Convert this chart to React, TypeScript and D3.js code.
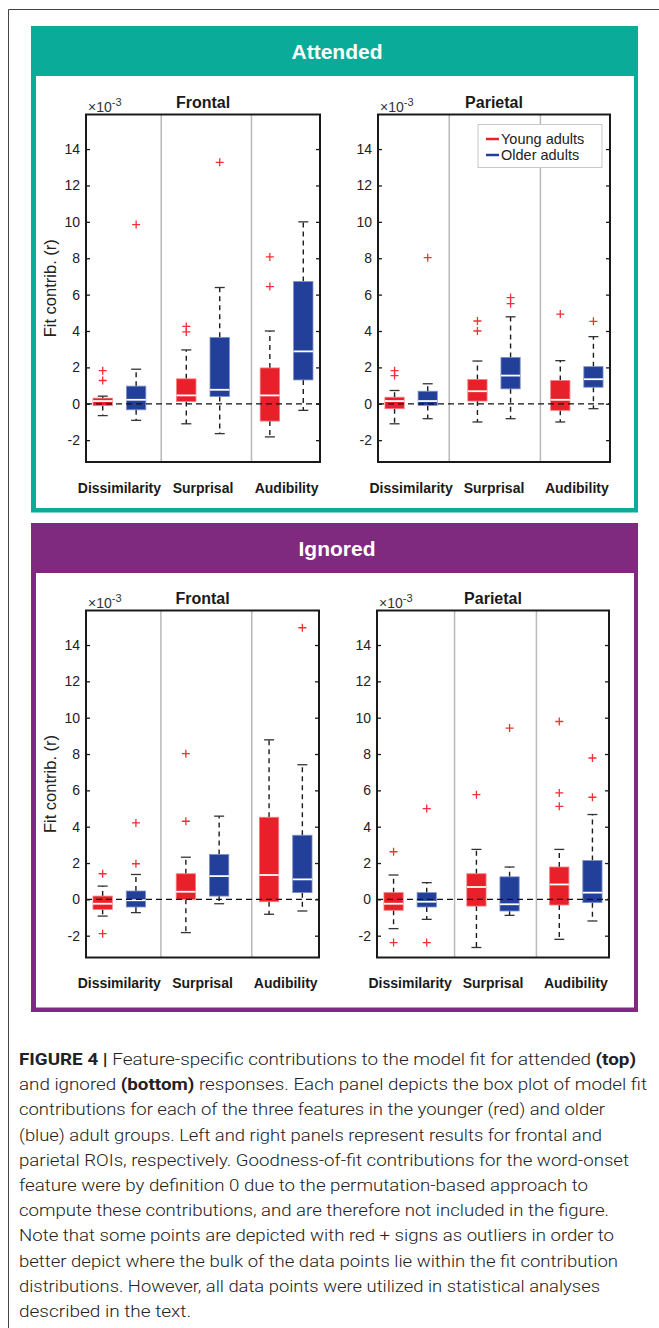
import React, { useEffect, useRef } from 'react';
import * as d3 from 'd3';

const W = 659;
const H = 1328;

const categories = ['Dissimilarity', 'Surprisal', 'Audibility'];
const groupNames = ['Young adults', 'Older adults'];
const yTicks = [-2, 0, 2, 4, 6, 8, 10, 12, 14];
const boxPositions = [1, 2, 3.5, 4.5, 6, 7];

// each box: [lower whisker, q1, median, q3, upper whisker] (x10^-3), young then older per feature
const attFrontalBoxes = [
  [-0.65, -0.1, 0.15, 0.31, 0.42],
  [-0.91, -0.33, 0.22, 0.97, 1.9],
  [-1.1, 0.13, 0.46, 1.37, 2.96],
  [-1.64, 0.4, 0.77, 3.65, 6.39],
  [-1.82, -0.95, 0.46, 1.97, 4.0],
  [-0.36, 1.31, 2.88, 6.72, 10.0],
];
const attFrontalOutliers = [[1.82, 1.28], [9.85], [4.25, 3.95], [13.27], [8.07, 6.44], []];

const attParietalBoxes = [
  [-1.1, -0.27, 0.15, 0.36, 0.73],
  [-0.82, -0.09, 0.15, 0.69, 1.1],
  [-1.0, 0.15, 0.69, 1.33, 2.35],
  [-0.82, 0.82, 1.55, 2.55, 4.78],
  [-1.0, -0.36, 0.22, 1.28, 2.37],
  [-0.27, 0.91, 1.35, 2.04, 3.69],
];
const attParietalOutliers = [[1.82, 1.55], [8.03], [4.55, 4.0], [5.84, 5.5], [4.93], [4.53]];

const ignFrontalBoxes = [
  [-0.92, -0.55, -0.24, 0.18, 0.73],
  [-0.73, -0.42, -0.05, 0.46, 1.37],
  [-1.83, 0.0, 0.42, 1.41, 2.32],
  [-0.24, 0.18, 1.28, 2.47, 4.58],
  [-0.82, -0.13, 1.34, 4.52, 8.78],
  [-0.64, 0.37, 1.1, 3.53, 7.41],
];
const ignFrontalOutliers = [[1.41, -1.89], [4.21, 1.96], [8.02, 4.3], [], [], [14.95]];

const ignParietalBoxes = [
  [-1.61, -0.6, -0.24, 0.37, 1.34],
  [-1.1, -0.42, -0.13, 0.37, 0.92],
  [-2.65, -0.37, 0.68, 1.41, 2.75],
  [-0.88, -0.64, -0.27, 1.24, 1.78],
  [-2.2, -0.31, 0.82, 1.78, 2.75],
  [-1.19, -0.18, 0.37, 2.14, 4.67],
];
const ignParietalOutliers = [[2.62, -2.38], [5.0, -2.38], [5.76], [9.43], [9.79, 5.86, 5.12], [7.78, 5.62]];

const captionLines = [
  [['FIGURE 4 | ', true], ['Feature-specific contributions to the model fit for attended ', false], ['(top)', true]],
  [['and ignored ', false], ['(bottom)', true], [' responses. Each panel depicts the box plot of model fit', false]],
  [['contributions for each of the three features in the younger (red) and older', false]],
  [['(blue) adult groups. Left and right panels represent results for frontal and', false]],
  [['parietal ROIs, respectively. Goodness-of-fit contributions for the word-onset', false]],
  [['feature were by definition 0 due to the permutation-based approach to', false]],
  [['compute these contributions, and are therefore not included in the figure.', false]],
  [['Note that some points are depicted with red + signs as outliers in order to', false]],
  [['better depict where the bulk of the data points lie within the fit contribution', false]],
  [['distributions. However, all data points were utilized in statistical analyses', false]],
  [['described in the text.', false]],
];
const captionWidths = [617, 628, 586, 583, 610, 569, 590, 595, 599, 581, 172];

const RED = '#e8202a';
const BLUE = '#22409a';
const FONT = '"Liberation Sans", Arial, sans-serif';

const sections = [
  { label: 'Attended', color: '#0aab99', top: 26, head: 76, bottom: 512.5 },
  { label: 'Ignored', color: '#7f2a7e', top: 523, head: 573, bottom: 1012 },
];

const panels = [
  { title: 'Frontal', boxes: attFrontalBoxes, outliers: attFrontalOutliers, x0: 86, x1: 320, y0: 114.5, y1: 462, dividers: [2.75, 5.45], ylabel: true, legend: false },
  { title: 'Parietal', boxes: attParietalBoxes, outliers: attParietalOutliers, x0: 378, x1: 610, y0: 114.5, y1: 462, dividers: [2.65, 5.4], ylabel: false, legend: true },
  { title: 'Frontal', boxes: ignFrontalBoxes, outliers: ignFrontalOutliers, x0: 86, x1: 319, y0: 610.5, y1: 957.5, dividers: [2.75, 5.48], ylabel: true, legend: false },
  { title: 'Parietal', boxes: ignParietalBoxes, outliers: ignParietalOutliers, x0: 377, x1: 609, y0: 610.5, y1: 957.5, dividers: [2.84, 5.31], ylabel: false, legend: false },
];

function drawPanel(svg, p) {
  const x = d3.scaleLinear().domain([0.5, 7.5]).range([p.x0, p.x1]);
  const y = d3.scaleLinear().domain([-3.2, 15.9]).range([p.y1, p.y0]);
  const g = svg.append('g');
  const bw = x(0.58) - x(0);
  const cw = x(0.3) - x(0);

  g.selectAll('line.div')
    .data(p.dividers)
    .enter()
    .append('line')
    .attr('x1', d => x(d)).attr('x2', d => x(d))
    .attr('y1', p.y0).attr('y2', p.y1)
    .attr('stroke', '#b9b9b9')
    .attr('stroke-width', 1.5);

  p.boxes.forEach((b, i) => {
    const cx = x(boxPositions[i]);
    const col = i % 2 === 0 ? RED : BLUE;
    // whiskers
    [[b[3], b[4]], [b[1], b[0]]].forEach(([a, e]) => {
      g.append('line')
        .attr('x1', cx).attr('x2', cx)
        .attr('y1', y(a)).attr('y2', y(e))
        .attr('stroke', '#1c1c1c')
        .attr('stroke-width', 1.4)
        .attr('stroke-dasharray', '5,4');
      g.append('line')
        .attr('x1', cx - cw / 2).attr('x2', cx + cw / 2)
        .attr('y1', y(e)).attr('y2', y(e))
        .attr('stroke', '#333')
        .attr('stroke-width', 1.3);
    });
    g.append('rect')
      .attr('x', cx - bw / 2)
      .attr('y', y(b[3]))
      .attr('width', bw)
      .attr('height', y(b[1]) - y(b[3]))
      .attr('fill', col)
      .attr('stroke', i % 2 === 0 ? '#f47b80' : '#7f8fc4')
      .attr('stroke-width', 0.8);
    g.append('line')
      .attr('x1', cx - bw / 2).attr('x2', cx + bw / 2)
      .attr('y1', y(b[2])).attr('y2', y(b[2]))
      .attr('stroke', '#fff')
      .attr('stroke-width', 1.8);
    p.outliers[i].forEach(v => {
      const oy = y(v);
      g.append('path')
        .attr('d', `M${cx - 4},${oy}H${cx + 4}M${cx},${oy - 4}V${oy + 4}`)
        .attr('stroke', '#f03236')
        .attr('stroke-width', 1.3)
        .attr('fill', 'none');
    });
  });

  g.append('line')
    .attr('x1', p.x0).attr('x2', p.x1)
    .attr('y1', y(0)).attr('y2', y(0))
    .attr('stroke', '#111')
    .attr('stroke-width', 1.3)
    .attr('stroke-dasharray', '6,4');

  // axes
  const left = g.append('g').attr('transform', `translate(${p.x0},0)`)
    .call(d3.axisLeft(y).tickValues(yTicks).tickSizeInner(-4).tickSizeOuter(0).tickPadding(6).tickFormat(d => String(d)));
  const right = g.append('g').attr('transform', `translate(${p.x1},0)`)
    .call(d3.axisRight(y).tickValues(yTicks).tickSizeInner(-4).tickSizeOuter(0).tickFormat(() => ''));
  [left, right].forEach(a => {
    a.select('.domain').remove();
    a.selectAll('line').attr('stroke', '#1a1a1a').attr('stroke-width', 1.3);
  });
  left.selectAll('text')
    .attr('font-size', 14)
    .attr('font-family', FONT)
    .attr('fill', '#222');

  g.append('rect')
    .attr('x', p.x0).attr('y', p.y0)
    .attr('width', p.x1 - p.x0).attr('height', p.y1 - p.y0)
    .attr('fill', 'none')
    .attr('stroke', '#1a1a1a')
    .attr('stroke-width', 2);

  const exp = g.append('text')
    .attr('x', p.x0 + 2).attr('y', p.y0 - 3)
    .attr('font-family', FONT).attr('font-size', 14).attr('fill', '#333');
  exp.append('tspan').text('×10');
  exp.append('tspan').attr('font-size', 11).attr('dy', -6).text('-3');

  g.append('text')
    .attr('x', (p.x0 + p.x1) / 2).attr('y', p.y0 - 6.5)
    .attr('text-anchor', 'middle')
    .attr('font-family', FONT).attr('font-size', 16).attr('font-weight', 'bold')
    .attr('fill', '#1a1a1a')
    .text(p.title);

  g.selectAll('text.cat')
    .data(categories)
    .enter()
    .append('text')
    .attr('x', (d, k) => x((boxPositions[2 * k] + boxPositions[2 * k + 1]) / 2))
    .attr('y', p.y1 + 30.5)
    .attr('text-anchor', 'middle')
    .attr('font-family', FONT).attr('font-size', 14).attr('font-weight', 'bold')
    .attr('fill', '#1a1a1a')
    .text(d => d);

  if (p.ylabel) {
    g.append('text')
      .attr('transform', `translate(50,${(p.y0 + p.y1) / 2}) rotate(-90)`)
      .attr('text-anchor', 'middle')
      .attr('dominant-baseline', 'central')
      .attr('font-family', FONT).attr('font-size', 16.5)
      .attr('fill', '#222')
      .text('Fit contrib. (r)');
  }

  if (p.legend) {
    const lg = g.append('g');
    lg.append('rect')
      .attr('x', 478).attr('y', 124.5).attr('width', 124).attr('height', 43)
      .attr('fill', '#fff').attr('stroke', '#c8c8c8').attr('stroke-width', 1);
    groupNames.forEach((n, k) => {
      const ly = 139 + k * 16;
      lg.append('line')
        .attr('x1', 486).attr('x2', 499).attr('y1', ly).attr('y2', ly)
        .attr('stroke', k === 0 ? RED : BLUE).attr('stroke-width', 2.5);
      lg.append('text')
        .attr('x', 501).attr('y', ly + 5)
        .attr('font-family', FONT).attr('font-size', 14.5).attr('fill', '#222')
        .text(n);
    });
  }
}

export default function App() {
  const ref = useRef(null);

  useEffect(() => {
    const svg = d3.select(ref.current);
    svg.selectAll('*').remove();

    svg.append('path')
      .attr('d', `M8.5,${H}V9.5H${W}`)
      .attr('fill', 'none')
      .attr('stroke', '#444')
      .attr('stroke-width', 1);

    sections.forEach(s => {
      svg.append('rect')
        .attr('x', 31).attr('y', s.top).attr('width', 607).attr('height', s.bottom - s.top)
        .attr('fill', s.color);
      svg.append('rect')
        .attr('x', 36).attr('y', s.head).attr('width', 598).attr('height', s.bottom - 4.5 - s.head)
        .attr('fill', '#fff');
      svg.append('text')
        .attr('x', 337).attr('y', (s.top + s.head) / 2 + 7.5)
        .attr('text-anchor', 'middle')
        .attr('font-family', FONT).attr('font-size', 21).attr('font-weight', 'bold')
        .attr('fill', '#fff')
        .text(s.label);
    });

    panels.forEach(p => drawPanel(svg, p));

    const cap = svg.append('g');
    captionLines.forEach((parts, i) => {
      const t = cap.append('text')
        .attr('x', 19).attr('y', 1065 + i * 25.2)
        .attr('font-family', '"Liberation Sans Narrow", Roboto, sans-serif')
        .attr('font-size', 17)
        .attr('font-weight', 300)
        .attr('fill', '#222')
        .attr('textLength', captionWidths[i])
        .attr('lengthAdjust', 'spacingAndGlyphs')
        .attr('xml:space', 'preserve');
      parts.forEach(([txt, bold]) => {
        t.append('tspan').attr('font-weight', bold ? 700 : 300).text(txt);
      });
    });
  }, []);

  return (
    <svg ref={ref} width={W} height={H} style={{ position: 'absolute', left: 0, top: 0, background: '#fff' }} />
  );
}
